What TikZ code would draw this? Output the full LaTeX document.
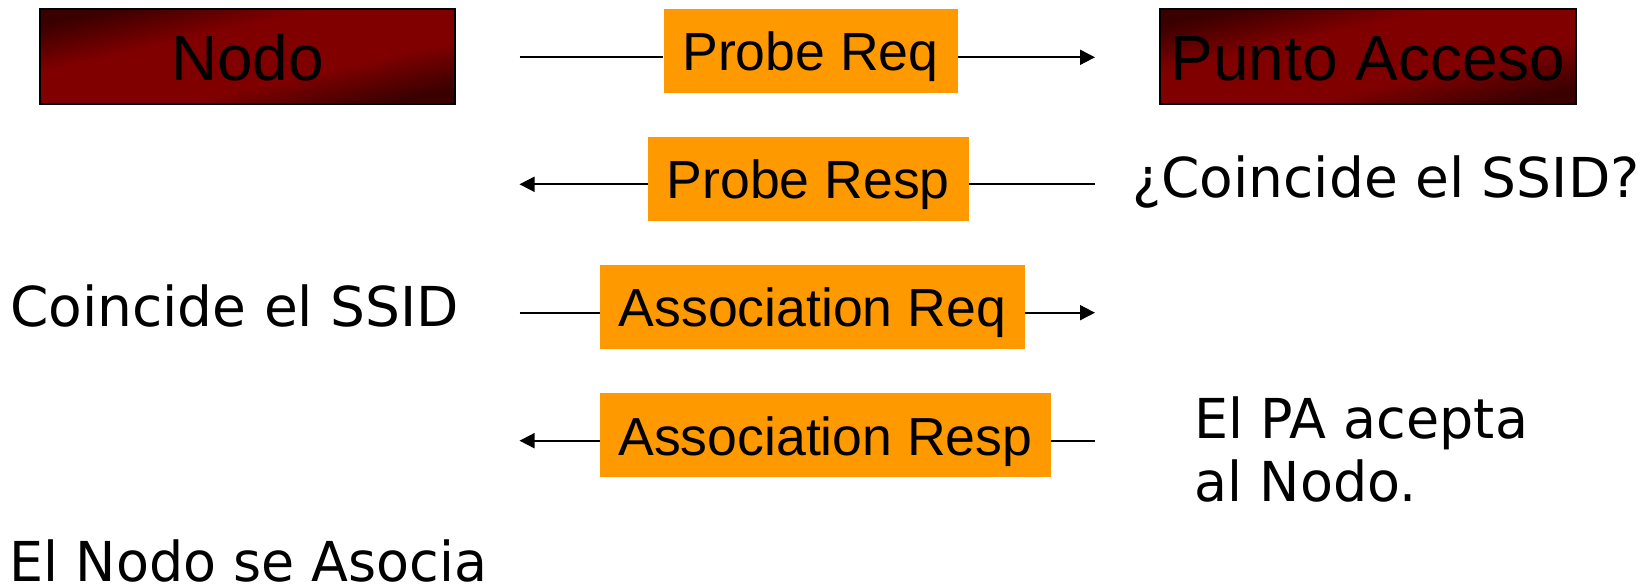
\documentclass[tikz,border=0pt]{standalone}
\usepackage{fontspec}
\usetikzlibrary{arrows.meta}
\newfontfamily\boxfont{Liberation Sans}
\newfontfamily\notefont[FakeStretch=0.98]{DejaVu Sans}
\newfontfamily\notewidefont{DejaVu Sans}
\definecolor{maroonmid}{HTML}{800000}
\definecolor{maroondark}{HTML}{3A0000}
\definecolor{msgorange}{HTML}{FF9900}
% dark corners, maroon band through the middle
\pgfdeclarehorizontalshading{cornerdark}{100bp}{%
  color(0bp)=(maroondark); color(25bp)=(maroondark);
  color(40bp)=(maroonmid); color(60bp)=(maroonmid);
  color(75bp)=(maroondark); color(100bp)=(maroondark)}

\begin{document}
\begin{tikzpicture}[x=1pt,y=-1pt,
  station/.style={draw=black, line width=2.3pt, shade, shading=cornerdark,
    shading angle=-77.1, inner sep=0pt, minimum height=95pt,
    text height=72pt, text depth=23pt,
    font=\boxfont\fontsize{64}{64}\selectfont},
  msg/.style={fill=msgorange, inner sep=0pt, minimum height=84pt,
    text height=62pt, text depth=22pt,
    font=\boxfont\fontsize{53.6}{60}\selectfont},
  note/.style={anchor=base west, inner sep=0pt,
    font=\notefont\fontsize{55}{64}\selectfont},
  widenote/.style={note, font=\notewidefont\fontsize{55}{64}\selectfont},
  link/.style={line width=1.8pt},
  tip/.style={-{Triangle[length=15pt,width=15pt]}}]

\useasboundingbox (0,0) rectangle (1651,585);

% stations
\node[station, minimum width=415pt] (nodo) at (247.5,56.5) {Nodo};
\node[station, minimum width=416pt] (pa) at (1368,56.5) {Punto Acceso};

% message labels
\node[msg, minimum width=294pt] (preq) at (810.5,50.8) {Probe Req};
\node[msg, minimum width=320.6pt] (presp) at (808.3,178.7) {Probe Resp};
\node[msg, minimum width=424.7pt] (areq) at (812.3,306.8) {Association Req};
\node[msg, minimum width=450.8pt] (aresp) at (825.4,435) {Association Resp};

% ends of the message arrows
\coordinate (l1) at (519.5,57.3);  \coordinate (r1) at (1095,57.3);
\coordinate (l2) at (519.5,184.3); \coordinate (r2) at (1095,184.3);
\coordinate (l3) at (519.5,312.7); \coordinate (r3) at (1095,312.7);
\coordinate (l4) at (519.5,440.7); \coordinate (r4) at (1095,440.7);

\draw[link] (l1) -- (l1 -| preq.west);
\draw[link, tip] (r1 -| preq.east) -- (r1);
\draw[link, tip] (l2 -| presp.west) -- (l2);
\draw[link] (r2) -- (r2 -| presp.east);
\draw[link] (l3) -- (l3 -| areq.west);
\draw[link, tip] (r3 -| areq.east) -- (r3);
\draw[link, tip] (l4 -| aresp.west) -- (l4);
\draw[link] (r4) -- (r4 -| aresp.east);

% notes
\node[widenote] (pregunta) at (1132,197.7) {¿Coincide el SSID?};
\node[widenote] (coincide) at (10,326.7) {Coincide el SSID};
\node[note] (acepta1) at (1194.5,438.3) {El PA acepta};
\node[note] (acepta2) at (1194.5,501.7) {al Nodo.};
\node[note, text depth=0pt] (asocia) at (9.6,581) {El Nodo se Asocia};
\end{tikzpicture}
\end{document}
